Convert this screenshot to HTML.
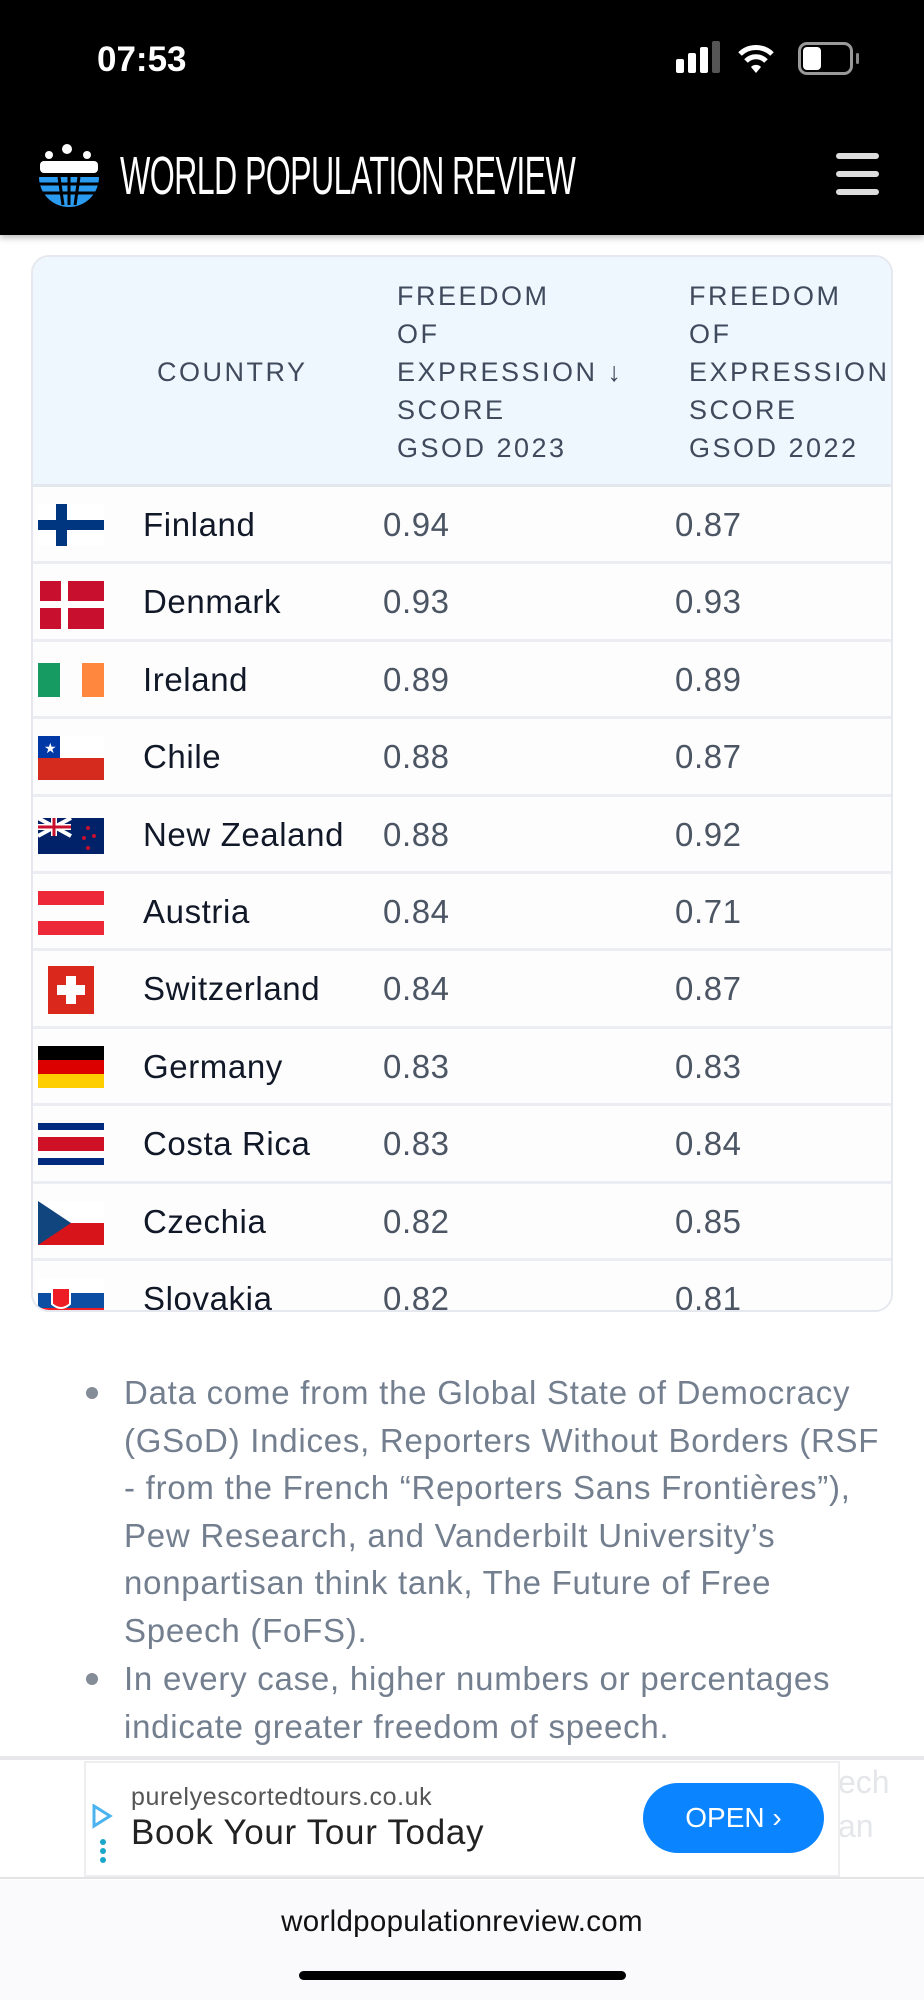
<!DOCTYPE html>
<html><head><meta charset="utf-8"><style>
*{margin:0;padding:0;box-sizing:border-box}
body{width:924px;height:2000px;background:#fff;position:relative;overflow:hidden;font-family:"Liberation Sans",sans-serif}
.abs{position:absolute}
#top{left:0;top:0;width:924px;height:235px;background:#000;box-shadow:0 3px 6px rgba(0,0,0,.25)}
.card{left:31px;top:255px;width:862px;height:1057px;border:2px solid #e5e9ef;border-radius:18px;overflow:hidden;background:#fff}
.head{left:0;top:0;width:862px;height:230px;background:#eff7fe;border-bottom:3px solid #e3e7ee}
.h{color:#3f4a5c;font-size:27px;letter-spacing:2.5px;line-height:38px;position:absolute}
.row{position:absolute;left:0;width:862px;height:77.4px;border-bottom:3px solid #ebedf2;background:#fdfdfe}
.row .c{position:absolute;left:110px;top:19px;font-size:33px;letter-spacing:0.6px;color:#111827}
.row .v1{position:absolute;left:350px;top:19px;font-size:33px;letter-spacing:0.6px;color:#4b5563}
.row .v2{position:absolute;left:642px;top:19px;font-size:33px;letter-spacing:0.6px;color:#4b5563}
.row svg{position:absolute;left:5px;top:17px}
.bl{left:124px;color:#737f8f;font-size:33px;letter-spacing:0.75px;line-height:47.6px;width:790px}
.dot{width:12px;height:12px;border-radius:6px;background:#848c97}
</style></head><body>
<div id="top" class="abs">
<div class="abs" style="left:97px;top:40px;color:#fff;font-size:35px;font-weight:bold">07:53</div>
<div class="abs" style="left:676px;top:59px;width:8px;height:14px;background:#fff;border-radius:2px"></div>
<div class="abs" style="left:688px;top:53px;width:8px;height:20px;background:#fff;border-radius:2px"></div>
<div class="abs" style="left:700px;top:47px;width:8px;height:26px;background:#fff;border-radius:2px"></div>
<div class="abs" style="left:712px;top:41px;width:8px;height:32px;background:#555;border-radius:2px"></div>
<svg class="abs" style="left:737px;top:42px" width="38" height="32" viewBox="0 0 38 32"><path d="M3 12 A23 23 0 0 1 35 12" stroke="#fff" stroke-width="5" fill="none"/><path d="M9 19 A14 14 0 0 1 29 19" stroke="#fff" stroke-width="5" fill="none"/><path d="M14 25 L19 31 L24 25 A7 7 0 0 0 14 25Z" fill="#fff"/></svg>
<div class="abs" style="left:798px;top:42px;width:55px;height:33px;border:3px solid #999;border-radius:9px"></div>
<div class="abs" style="left:803px;top:47px;width:18px;height:23px;background:#fff;border-radius:4px"></div>
<div class="abs" style="left:856px;top:53px;width:3px;height:11px;background:#888;border-radius:2px"></div>
<svg class="abs" style="left:37px;top:143px" width="64" height="64" viewBox="0 0 64 64">
<circle cx="30" cy="6" r="5" fill="#fff"/><circle cx="12" cy="12" r="4" fill="#fff"/><circle cx="50" cy="12" r="4" fill="#fff"/>
<rect x="3" y="18" width="58" height="12" rx="4" fill="#fff"/>
<path d="M2 34 H62 A30 30 0 0 1 2 34Z" fill="#2b9bf0"/>
<path d="M2 41 H62 M6 50 H58 M22 34 L26 62 M42 34 L38 62 M32 34 V62" stroke="#000" stroke-width="3"/>
</svg>
<div class="abs" style="left:120px;top:145px;color:#fff;font-size:54px;transform:scaleX(.595);transform-origin:0 0;white-space:nowrap;letter-spacing:-1px">WORLD POPULATION REVIEW</div>
<div class="abs" style="left:836px;top:153px;width:43px;height:6px;background:#ddd;border-radius:3px"></div>
<div class="abs" style="left:836px;top:171px;width:43px;height:6px;background:#ddd;border-radius:3px"></div>
<div class="abs" style="left:836px;top:189px;width:43px;height:6px;background:#ddd;border-radius:3px"></div>
</div>

<div class="card abs">
<div class="head abs">
<div class="h" style="left:124px;top:96px">COUNTRY</div>
<div class="h" style="left:364px;top:20px">FREEDOM<br>OF<br>EXPRESSION ↓<br>SCORE<br>GSOD 2023</div>
<div class="h" style="left:656px;top:20px">FREEDOM<br>OF<br>EXPRESSION<br>SCORE<br>GSOD 2022</div>
</div>
<div class="row" style="top:230px"><svg width="66" height="42"><rect width="66" height="42" fill="#fff"/><rect x="0" y="16" width="66" height="10" fill="#003580"/><rect x="18" y="0" width="11" height="42" fill="#003580"/></svg><div class="c">Finland</div><div class="v1">0.94</div><div class="v2">0.87</div></div>
<div class="row" style="top:307.4px"><svg width="66" height="48"><rect x="2" y="0" width="64" height="48" fill="#c8102e"/><rect x="2" y="20" width="64" height="7" fill="#fff"/><rect x="23" y="0" width="7" height="48" fill="#fff"/></svg><div class="c">Denmark</div><div class="v1">0.93</div><div class="v2">0.93</div></div>
<div class="row" style="top:384.8px"><svg width="66" height="44"><rect y="4" width="22" height="34" fill="#169b62"/><rect x="44" y="4" width="22" height="34" fill="#ff883e"/></svg><div class="c">Ireland</div><div class="v1">0.89</div><div class="v2">0.89</div></div>
<div class="row" style="top:462.2px"><svg width="66" height="44"><rect width="66" height="22" fill="#fff"/><rect width="22" height="22" fill="#0039a6"/><text x="6" y="17" fill="#fff" font-size="14">★</text><rect y="22" width="66" height="22" fill="#d52b1e"/></svg><div class="c">Chile</div><div class="v1">0.88</div><div class="v2">0.87</div></div>
<div class="row" style="top:539.6px"><svg width="66" height="36" style="top:21px"><rect width="66" height="36" fill="#012169"/><path d="M0 0L33 18M33 0L0 18" stroke="#fff" stroke-width="4"/><path d="M16 0V18M0 9H33" stroke="#fff" stroke-width="6"/><path d="M16 0V18M0 9H33" stroke="#c8102e" stroke-width="3"/><circle cx="50" cy="10" r="2" fill="#c8102e"/><circle cx="56" cy="18" r="2" fill="#c8102e"/><circle cx="46" cy="20" r="2" fill="#c8102e"/><circle cx="50" cy="30" r="2" fill="#c8102e"/></svg><div class="c">New Zealand</div><div class="v1">0.88</div><div class="v2">0.92</div></div>
<div class="row" style="top:617px"><svg width="66" height="44"><rect width="66" height="14" fill="#ed2939"/><rect y="30" width="66" height="14" fill="#ed2939"/></svg><div class="c">Austria</div><div class="v1">0.84</div><div class="v2">0.71</div></div>
<div class="row" style="top:694.4px"><svg width="66" height="48" style="top:15px"><rect x="10" y="0" width="46" height="48" fill="#da291c"/><rect x="28" y="10" width="10" height="28" fill="#fff"/><rect x="19" y="19" width="28" height="10" fill="#fff"/></svg><div class="c">Switzerland</div><div class="v1">0.84</div><div class="v2">0.87</div></div>
<div class="row" style="top:771.8px"><svg width="66" height="42"><rect width="66" height="14" fill="#000"/><rect y="14" width="66" height="14" fill="#dd0000"/><rect y="28" width="66" height="14" fill="#ffce00"/></svg><div class="c">Germany</div><div class="v1">0.83</div><div class="v2">0.83</div></div>
<div class="row" style="top:849.2px"><svg width="66" height="42"><rect width="66" height="42" fill="#002b7f"/><rect y="7" width="66" height="28" fill="#fff"/><rect y="14" width="66" height="14" fill="#ce1126"/></svg><div class="c">Costa Rica</div><div class="v1">0.83</div><div class="v2">0.84</div></div>
<div class="row" style="top:926.6px"><svg width="66" height="44"><rect width="66" height="22" fill="#fff"/><rect y="22" width="66" height="22" fill="#d7141a"/><path d="M0 0L33 22L0 44Z" fill="#11457e"/></svg><div class="c">Czechia</div><div class="v1">0.82</div><div class="v2">0.85</div></div>
<div class="row" style="top:1004px"><svg width="66" height="44"><rect width="66" height="15" fill="#fff"/><rect y="15" width="66" height="15" fill="#0b4ea2"/><rect y="30" width="66" height="14" fill="#ee1c25"/><path d="M14 10H32V26Q23 34 14 26Z" fill="#ee1c25" stroke="#fff" stroke-width="2"/></svg><div class="c">Slovakia</div><div class="v1">0.82</div><div class="v2">0.81</div></div>
</div>

<div class="abs dot" style="left:86px;top:1387px"></div>
<div class="abs dot" style="left:86px;top:1673px"></div>
<div class="abs bl" style="top:1369px">Data come from the Global State of Democracy<br>(GSoD) Indices, Reporters Without Borders (RSF<br>- from the French “Reporters Sans Frontières”),<br>Pew Research, and Vanderbilt University’s<br>nonpartisan think tank, The Future of Free<br>Speech (FoFS).</div>
<div class="abs bl" style="top:1655px">In every case, higher numbers or percentages<br>indicate greater freedom of speech.</div>

<div class="abs" style="left:0;top:1756px;width:924px;height:123px;background:#fff;border-top:4px solid #e8e8ea;border-bottom:2px solid #e3e3e6"></div>
<div class="abs" style="left:838px;top:1764px;color:#e4e6ea;font-size:32px">ech</div>
<div class="abs" style="left:838px;top:1808px;color:#e4e6ea;font-size:32px">an</div>
<div class="abs" style="left:84px;top:1761px;width:756px;height:116px;border:2px solid #eeeef0;background:#fff"></div>
<svg class="abs" style="left:90px;top:1804px" width="24" height="60"><path d="M4 2L20 12L4 22Z" fill="none" stroke="#4ab3f0" stroke-width="3"/><circle cx="13" cy="38" r="3" fill="#1aa7c9"/><circle cx="13" cy="47" r="3" fill="#1aa7c9"/><circle cx="13" cy="56" r="3" fill="#1aa7c9"/></svg>
<div class="abs" style="left:131px;top:1783px;color:#555;font-size:25px;letter-spacing:0.6px">purelyescortedtours.co.uk</div>
<div class="abs" style="left:131px;top:1813px;color:#222;font-size:35px;letter-spacing:0.7px">Book Your Tour Today</div>
<div class="abs" style="left:643px;top:1783px;width:181px;height:70px;border-radius:35px;background:#0a84ff;color:#fff;font-size:28px;line-height:70px;text-align:center">OPEN ›</div>

<div class="abs" style="left:0;top:1880px;width:924px;height:120px;background:#fafafc"></div>
<div class="abs" style="left:0;top:1905px;width:924px;text-align:center;color:#111;font-size:29.5px;letter-spacing:0.3px">worldpopulationreview.com</div>
<div class="abs" style="left:299px;top:1971px;width:327px;height:9px;border-radius:5px;background:#000"></div>
</body></html>
